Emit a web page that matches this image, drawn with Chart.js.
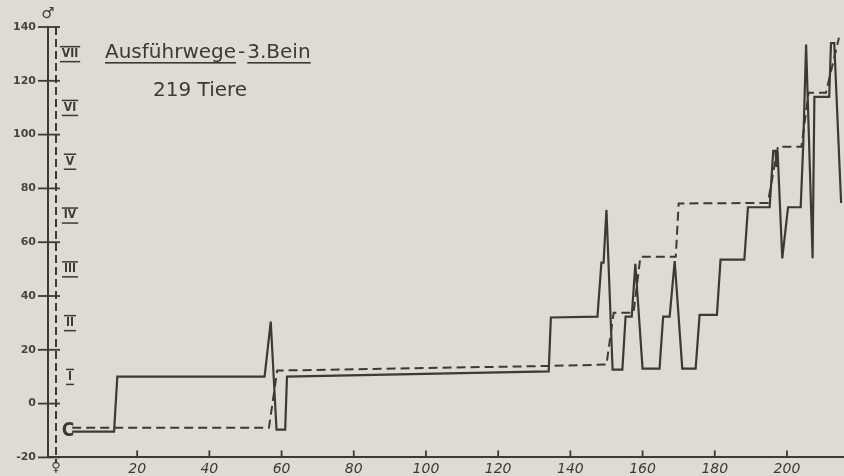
<!DOCTYPE html>
<html>
<head>
<meta charset="utf-8">
<script src="https://cdn.jsdelivr.net/npm/chart.js@4.4.1/dist/chart.umd.min.js"></script>
<style>
  html, body { margin: 0; padding: 0; background: #dddbd2; }
  #wrap { width: 844px; height: 476px; }
</style>
</head>
<body>
<div id="wrap"><canvas id="wegeChart" width="844" height="476"></canvas></div>
<script>
// Tier-Nr. (x) gegen Ausführweg (y); Männchen durchgezogen, Weibchen gestrichelt
const maleX = [2, 13.6, 14.5, 55.3, 57, 58.6, 61, 61.5, 134, 134.6, 147.5, 148.6, 149.2, 150, 151.7, 154.4,
  155.3, 157, 158, 160, 164.7, 165.7, 167.5, 168.9, 171, 174.7, 175.8, 180.6, 181.6, 188.2, 189.2, 195.2,
  196.2, 196.8, 197.1, 197.4, 198.7, 200.3, 203.8, 204.5, 205.3, 207.1, 207.6, 211.7, 212.2, 213.1, 215];
const maleY = [-10.4, -10.4, 10, 10, 30.5, -9.7, -9.7, 10, 12, 32, 32.3, 52.4, 52.4, 72, 12.6, 12.6,
  32.3, 32.3, 52, 13, 13, 32.3, 32.3, 53, 13, 13, 33, 33, 53.5, 53.5, 73, 73,
  94, 94, 88, 94, 54, 73, 73, 96, 133.5, 54, 114, 114, 134, 134, 74.6];

const femaleX = [2, 56.5, 58.8, 59.6, 134, 150, 152, 157.5, 159.4, 169.2, 170, 194.7, 197.5, 204, 206, 210.8, 214.4];
const femaleY = [-9, -9, 12.3, 12.3, 14, 14.5, 33.8, 33.8, 54.6, 54.6, 74.4, 74.6, 95.5, 95.5, 115.6, 115.6, 136];

const xTicks = [20, 40, 60, 80, 100, 120, 140, 160, 180, 200];
const yTicks = [-20, 0, 20, 40, 60, 80, 100, 120, 140];

// Wegstufen I-VII, jeweils mittig zwischen zwei Teilstrichen
const stufen = ['I', 'II', 'III', 'IV', 'V', 'VI', 'VII'];
const stufenWert = [10, 30, 50, 70, 90, 110, 130];

const ink = '#3d3936';
const paper = '#dddbd2';

const toPoints = (xs, ys) => xs.map((x, i) => ({ x: x, y: ys[i] }));

const zeichnung = {
  id: 'zeichnung',
  beforeDraw(chart) {
    const ctx = chart.ctx;
    ctx.save();
    ctx.fillStyle = paper;
    ctx.fillRect(0, 0, chart.width, chart.height);
    ctx.restore();
  },
  afterDraw(chart) {
    const ctx = chart.ctx;
    const xs = chart.scales.x, ys = chart.scales.y;
    const left = chart.chartArea.left, bottom = chart.chartArea.bottom;
    ctx.save();
    ctx.strokeStyle = ink;
    ctx.fillStyle = ink;

    // zweite (gestrichelte) Achse für die Weibchen
    const ax2 = left + 8;
    ctx.lineWidth = 2;
    ctx.setLineDash([8, 4]);
    ctx.beginPath();
    ctx.moveTo(ax2, ys.getPixelForValue(140));
    ctx.lineTo(ax2, bottom + 6);
    ctx.stroke();
    ctx.setLineDash([]);

    // Teilstriche quer über beide Achsen
    ctx.lineWidth = 1.8;
    yTicks.forEach(v => {
      const py = ys.getPixelForValue(v);
      ctx.beginPath();
      ctx.moveTo(left - 10, py);
      ctx.lineTo(ax2 + 4, py);
      ctx.stroke();
    });
    xTicks.forEach(v => {
      const px = xs.getPixelForValue(v);
      ctx.beginPath();
      ctx.moveTo(px, bottom);
      ctx.lineTo(px, bottom - 7);
      ctx.stroke();
    });

    // Stufen I-VII mit Strich darüber und darunter
    ctx.font = 'bold 12px "DejaVu Sans Condensed", "DejaVu Sans"';
    ctx.textAlign = 'center';
    ctx.textBaseline = 'middle';
    stufen.forEach((s, i) => {
      const py = ys.getPixelForValue(stufenWert[i]);
      const cx = 70;
      const w = ctx.measureText(s).width + 4;
      ctx.fillText(s, cx, py);
      ctx.fillRect(cx - w / 2, py - 8, w, 1.5);
      ctx.fillRect(cx - w / 2, py + 7, w, 1.5);
    });

    // Geschlechtszeichen und Startmarke
    ctx.font = '15px "DejaVu Sans"';
    ctx.fillText('\u2642', left, 14);
    ctx.font = '13px "DejaVu Sans"';
    ctx.fillText('\u2640', ax2, 468);
    ctx.font = 'bold 19px "DejaVu Sans Condensed", "DejaVu Sans"';
    ctx.fillText('C', 68, ys.getPixelForValue(-10) + 1);

    // Überschrift
    ctx.textAlign = 'left';
    ctx.textBaseline = 'alphabetic';
    ctx.font = '20px "DejaVu Sans"';
    const teile = [
      { t: 'Ausführwege', u: true },
      { t: '\u200a-\u200a', u: false },
      { t: '3.Bein', u: true }
    ];
    let cx = 105;
    teile.forEach(p => {
      const w = ctx.measureText(p.t).width;
      ctx.fillText(p.t, cx, 58);
      if (p.u) ctx.fillRect(cx, 62, w, 1.6);
      cx += w;
    });
    ctx.fillText('219 Tiere', 153, 96);
    ctx.restore();
  }
};

new Chart(document.getElementById('wegeChart'), {
  type: 'line',
  data: {
    datasets: [
      {
        label: '\u2642',
        data: toPoints(maleX, maleY),
        borderColor: ink,
        borderWidth: 2.2,
        pointRadius: 0,
        tension: 0,
        fill: false
      },
      {
        label: '\u2640',
        data: toPoints(femaleX, femaleY),
        borderColor: ink,
        borderWidth: 2,
        borderDash: [9, 5],
        pointRadius: 0,
        tension: 0,
        fill: false
      }
    ]
  },
  options: {
    responsive: false,
    animation: false,
    layout: { padding: { top: 27, right: 0, left: 0, bottom: 0 } },
    plugins: {
      legend: { display: false },
      tooltip: { enabled: false }
    },
    scales: {
      x: {
        type: 'linear',
        min: -4.7,
        max: 215.8,
        afterBuildTicks: s => { s.ticks = xTicks.map(v => ({ value: v })); },
        afterFit: s => { s.height = 18; },
        border: { display: true, color: ink, width: 2 },
        grid: { display: false, drawTicks: false },
        ticks: {
          color: ink,
          padding: 4,
          maxRotation: 0,
          font: { family: 'DejaVu Sans', size: 14, style: 'italic' }
        }
      },
      y: {
        type: 'linear',
        min: -20,
        max: 140,
        afterBuildTicks: s => { s.ticks = yTicks.map(v => ({ value: v })); },
        afterFit: s => { s.width = 48; },
        border: { display: true, color: ink, width: 2 },
        grid: { display: false, drawTicks: false },
        ticks: {
          color: '#4d3f44',
          padding: 12,
          font: { family: 'DejaVu Sans', size: 11, weight: 'bold' }
        }
      }
    }
  },
  plugins: [zeichnung]
});
</script>
</body>
</html>
